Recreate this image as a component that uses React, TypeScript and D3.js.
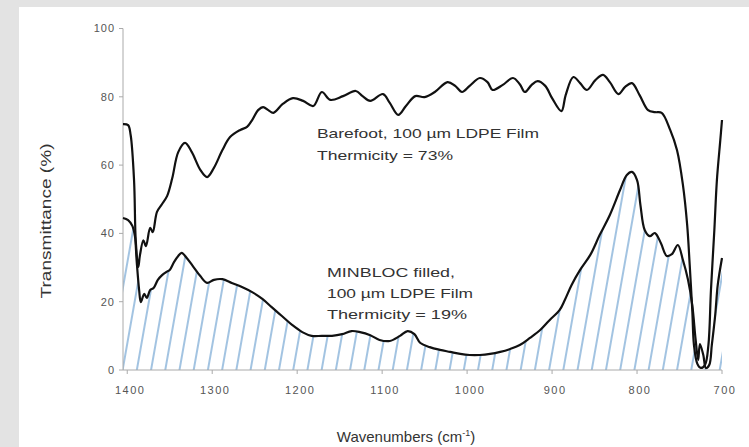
import React from 'react';
import * as d3 from 'd3';

// Barefoot film (upper trace), wavenumber cm-1 / transmittance %
const barefootWn = [
  1405, 1399, 1396, 1392, 1390, 1387, 1385, 1381, 1378, 1373, 1370, 1365, 1359, 1353, 1347, 1340,
  1332, 1324, 1314, 1306, 1298, 1288, 1279, 1267, 1259, 1253, 1246, 1240, 1234, 1228, 1217, 1205,
  1193, 1181, 1171, 1161, 1146, 1131, 1123, 1114, 1099, 1091, 1081, 1072, 1061, 1050, 1038, 1023,
  1014, 1006, 997, 985, 976, 970, 958, 946, 938, 932, 924, 917, 908, 900, 889, 884, 875, 867, 859,
  849, 840, 832, 822, 814, 806, 797, 787, 779, 771, 761, 753, 746, 741, 738, 735, 733, 729, 725,
  720, 716, 713, 709, 706, 702, 700,
];
const barefootT = [
  72, 71.7, 68.8, 55.6, 38, 30.2, 33.7, 38, 36.3, 41.6, 40.4, 46.3, 48.6, 51, 56.2, 63.8,
  66.5, 63.8, 58.6, 56.5, 59.2, 64.4, 68.2, 70.3, 71.2, 73.2, 76.1, 77, 76.1, 75.3, 77.9, 79.6,
  78.8, 77.3, 81.4, 79.1, 80.2, 81.7, 80.2, 78.8, 80.8, 78.2, 74.7, 77.3, 80.2, 79.9, 81.4, 84.3,
  83.2, 81.4, 83.2, 85.5, 84.3, 82, 83.5, 85.5, 83.7, 81.4, 83.5, 84.6, 83.2, 79.6, 75.8, 80.5, 85.8, 84, 82,
  84.9, 86.4, 84.3, 80.8, 82.9, 84, 80.5, 76.1, 75.5, 75.3, 70.3, 64.4, 54.2, 42.5, 30.7, 17.6, 7.3, 1.8, 0.6,
  1.5, 7.3, 23.4, 41, 55.6, 67.3, 73.2,
];

// MINBLOC filled film (lower, hatched trace)
const minblocWn = [
  1405, 1399, 1394, 1391, 1389, 1386, 1384, 1380, 1377, 1373, 1369, 1364, 1359, 1354, 1350, 1345,
  1340, 1336, 1330, 1323, 1314, 1306, 1298, 1288, 1277, 1265, 1253, 1241, 1230, 1218, 1206, 1194,
  1183, 1171, 1159, 1147, 1136, 1126, 1114, 1103, 1091, 1079, 1070, 1062, 1055, 1044, 1032, 1020,
  1008, 997, 985, 973, 961, 950, 938, 926, 914, 903, 891, 885, 877, 867, 855, 844, 832, 820, 812,
  806, 800, 796, 791, 785, 779, 772, 765, 759, 752, 746, 740, 735, 731, 728, 726, 722, 719, 715,
  712, 708, 705, 700,
];
const minblocT = [
  44.5, 43.9, 42.2, 39.2, 32.2, 23.4, 19.9, 22.3, 21.1, 23.4, 24, 26.4, 27.8, 28.7, 29.3, 31.6,
  33.4, 34.3, 32.8, 30.5, 27.5, 25.5, 26.4, 26.6, 25.5, 24.3, 22.8, 20.8, 18.4, 15.8, 13.2, 11.1,
  10, 10, 10, 10.5, 11.4, 11.1, 10.2, 8.8, 8.5, 10, 11.4, 10.5, 7.9, 6.7, 5.9, 5.3,
  4.7, 4.4, 4.4, 4.7, 5.3, 6.1, 7.3, 9.4, 11.7, 14.6, 17.6, 20.5, 24.9, 29.3, 33.7, 39.5, 45.4, 52.7, 57.1,
  58, 55.6, 48.3, 41, 39.2, 40.1, 37.2, 33.4, 33.9, 36.6, 32.2, 26.4, 19, 8.8, 2.9, 7.6, 4.4, 0.6, 1.5,
  7.3, 16.1, 24.9, 32.8,
];

const xTicks = [1400, 1300, 1200, 1100, 1000, 900, 800, 700];
const yTicks = [0, 20, 40, 60, 80, 100];

const barefootLabel = ['Barefoot, 100 \u00b5m LDPE Film', 'Thermicity = 73%'];
const minblocLabel = ['MINBLOC filled,', '100 \u00b5m LDPE Film', 'Thermicity = 19%'];

const W = 749;
const H = 447;
const font = 'Liberation Sans, Arial, Helvetica, sans-serif';

export default function App() {
  const x = d3.scaleLinear().domain([1405, 700]).range([123, 722]);
  const y = d3.scaleLinear().domain([0, 100]).range([370, 28.5]);

  const line = d3
    .line<[number, number]>()
    .x((d) => x(d[0]))
    .y((d) => y(d[1]))
    .curve(d3.curveCatmullRom.alpha(0.5));

  const area = d3
    .area<[number, number]>()
    .x((d) => x(d[0]))
    .y0(y(0))
    .y1((d) => y(d[1]))
    .curve(d3.curveCatmullRom.alpha(0.5));

  const upper = barefootWn.map((w, i) => [w, barefootT[i]] as [number, number]);
  const lower = minblocWn.map((w, i) => [w, minblocT[i]] as [number, number]);

  return (
    <div style={{ position: 'fixed', left: 0, top: 0 }}>
      <svg width={W} height={H} style={{ display: 'block' }} fontFamily={font}>
        <defs>
          <pattern
            id='hatch'
            width='14'
            height='14'
            patternUnits='userSpaceOnUse'
            patternTransform='rotate(10)'
          >
            <line x1='3' y1='0' x2='3' y2='14' stroke='#5592c9' strokeWidth='1.1' />
          </pattern>
        </defs>
        <rect x={0} y={0} width={W} height={H} fill='#e3e3e3' />
        <rect x={19} y={7} width={W - 19} height={H - 7} fill='#ffffff' />

        {/* hatched area under the MINBLOC trace */}
        <path d={area(lower) || ''} fill='url(#hatch)' />

        {/* axes */}
        <line x1={x.range()[0]} x2={x.range()[0]} y1={y(100)} y2={y(0)} stroke='#aaa' strokeWidth={1} />
        <line x1={x.range()[0]} x2={x.range()[1]} y1={y(0)} y2={y(0)} stroke='#aaa' strokeWidth={1} />
        {yTicks.map((t) => (
          <g key={'y' + t}>
            <line x1={x.range()[0] - 4} x2={x.range()[0]} y1={y(t)} y2={y(t)} stroke='#aaa' />
            <text
              x={x.range()[0] - 8}
              y={y(t)}
              dy='0.35em'
              textAnchor='end'
              fontSize={11}
              letterSpacing={1}
              fill='#555'
            >
              {t}
            </text>
          </g>
        ))}
        {xTicks.map((t) => (
          <g key={'x' + t}>
            <line x1={x(t)} x2={x(t)} y1={y(0)} y2={y(0) + 4} stroke='#aaa' />
            <text
              x={x(t) + 3}
              y={y(0) + 20}
              dy='0.35em'
              textAnchor='middle'
              fontSize={11}
              letterSpacing={1.5}
              fill='#555'
            >
              {t}
            </text>
          </g>
        ))}

        {/* traces */}
        <path d={line(lower) || ''} fill='none' stroke='#111' strokeWidth={2.2} />
        <path d={line(upper) || ''} fill='none' stroke='#111' strokeWidth={2.2} />

        {/* annotations */}
        {barefootLabel.map((s, i) => (
          <text
            key={s}
            x={317}
            y={138 + i * 22}
            fontSize={13}
            fill='#333'
            textLength={i === 0 ? 222 : 136}
            lengthAdjust='spacingAndGlyphs'
          >
            {s}
          </text>
        ))}
        {minblocLabel.map((s, i) => (
          <text
            key={s}
            x={327}
            y={277 + i * 21}
            fontSize={13}
            fill='#333'
            textLength={[128, 146, 140][i]}
            lengthAdjust='spacingAndGlyphs'
          >
            {s}
          </text>
        ))}

        {/* axis titles */}
        <text
          transform='translate(46,221) rotate(-90)'
          textAnchor='middle'
          dy='0.35em'
          fontSize={15}
          fill='#333'
          textLength={155}
          lengthAdjust='spacingAndGlyphs'
        >
          Transmittance (%)
        </text>
        <text x={406} y={442} textAnchor='middle' fontSize={15} fill='#333'>
          Wavenumbers (cm
          <tspan dy={-6} fontSize={9}>
            -1
          </tspan>
          <tspan dy={6}>)</tspan>
        </text>
      </svg>
    </div>
  );
}
